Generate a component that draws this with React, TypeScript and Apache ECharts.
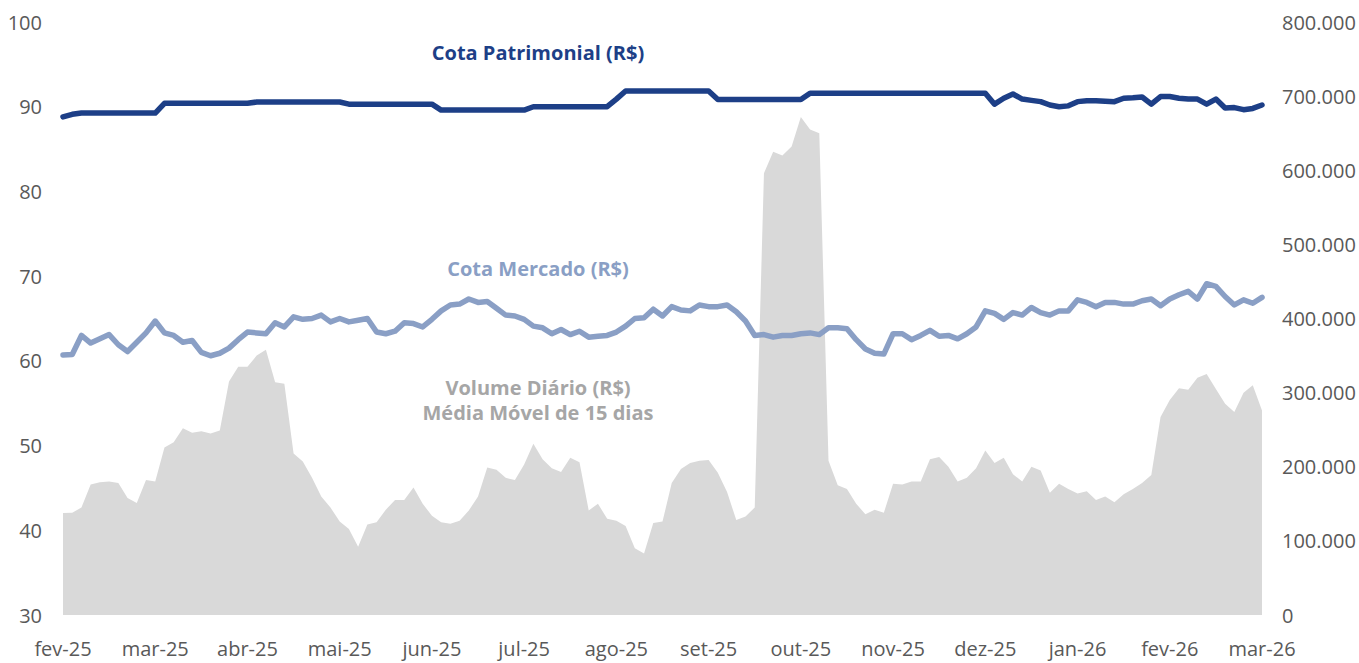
import React, { useEffect, useRef } from "react";
import * as echarts from "echarts";

const monthLabels = [
  "fev-25", "mar-25", "abr-25", "mai-25", "jun-25", "jul-25", "ago-25",
  "set-25", "out-25", "nov-25", "dez-25", "jan-26", "fev-26", "mar-26",
];
const pointsPerMonth = 10;

const cotaPatrimonial = [
  88.8, 89.1, 89.25, 89.25, 89.25, 89.25, 89.25, 89.25, 89.25, 89.25,
  89.25, 90.4, 90.4, 90.4, 90.4, 90.4, 90.4, 90.4, 90.4, 90.4,
  90.4, 90.55, 90.55, 90.55, 90.55, 90.55, 90.55, 90.55, 90.55, 90.55,
  90.55, 90.3, 90.3, 90.3, 90.3, 90.3, 90.3, 90.3, 90.3, 90.3,
  90.3, 89.6, 89.6, 89.6, 89.6, 89.6, 89.6, 89.6, 89.6, 89.6,
  89.6, 90.0, 90.0, 90.0, 90.0, 90.0, 90.0, 90.0, 90.0, 90.0,
  90.9, 91.85, 91.85, 91.85, 91.85, 91.85, 91.85, 91.85, 91.85, 91.85,
  91.85, 90.85, 90.85, 90.85, 90.85, 90.85, 90.85, 90.85, 90.85, 90.85,
  90.85, 91.6, 91.6, 91.6, 91.6, 91.6, 91.6, 91.6, 91.6, 91.6,
  91.6, 91.6, 91.6, 91.6, 91.6, 91.6, 91.6, 91.6, 91.6, 91.6,
  91.6, 90.3, 91.0, 91.5, 90.9, 90.75, 90.6, 90.2, 90.0, 90.1,
  90.6, 90.7, 90.7, 90.65, 90.6, 91.0, 91.05, 91.15, 90.3, 91.2,
  91.2, 91.0, 90.9, 90.9, 90.3, 90.9, 89.85, 89.9, 89.65, 89.8,
  90.2,
];

const cotaMercado = [
  60.7, 60.75, 63.0, 62.1, 62.6, 63.1, 61.9, 61.1, 62.2, 63.3,
  64.7, 63.3, 63.0, 62.2, 62.4, 61.0, 60.6, 60.9, 61.5, 62.5,
  63.4, 63.3, 63.2, 64.5, 64.0, 65.2, 64.9, 65.0, 65.4, 64.6,
  65.0, 64.6, 64.8, 65.0, 63.4, 63.2, 63.5, 64.5, 64.4, 64.0,
  64.9, 65.9, 66.6, 66.7, 67.3, 66.9, 67.0, 66.2, 65.4, 65.3,
  64.9, 64.1, 63.9, 63.2, 63.7, 63.1, 63.5, 62.8, 62.9, 63.0,
  63.4, 64.1, 65.0, 65.1, 66.1, 65.3, 66.4, 66.0, 65.9, 66.6,
  66.4, 66.4, 66.6, 65.8, 64.7, 63.0, 63.1, 62.8, 63.0, 63.0,
  63.2, 63.3, 63.1, 63.9, 63.9, 63.8, 62.5, 61.4, 60.9, 60.8,
  63.2, 63.2, 62.5, 63.0, 63.6, 62.9, 63.0, 62.6, 63.2, 64.0,
  65.9, 65.6, 64.9, 65.7, 65.4, 66.3, 65.7, 65.4, 65.9, 65.9,
  67.2, 66.9, 66.4, 66.9, 66.9, 66.7, 66.7, 67.1, 67.3, 66.5,
  67.3, 67.8, 68.2, 67.3, 69.1, 68.8, 67.6, 66.6, 67.2, 66.8,
  67.5,
];

const volumeMM15 = [
  137600, 138000, 145000, 176000, 179000, 180000, 178000, 158000, 151000, 182000,
  180000, 226000, 233000, 252000, 246000, 248000, 245000, 249000, 315000, 335000,
  335000, 350000, 358000, 314000, 312000, 218000, 207000, 185000, 160000, 145000,
  126000, 116000, 92000, 122000, 125000, 142000, 155000, 155000, 172000, 150000,
  134000, 125000, 123000, 127000, 141000, 160000, 199000, 196000, 185000, 182000,
  203000, 231000, 210000, 198000, 193000, 212000, 206000, 141000, 150000, 130000,
  127000, 120000, 90000, 83000, 124000, 126000, 178000, 197000, 205000, 208000,
  209000, 192000, 166000, 128000, 133000, 145000, 596000, 625000, 620000, 632000,
  672000, 655000, 650000, 208000, 175000, 170000, 150000, 136000, 142000, 138000,
  177000, 176000, 180000, 180000, 210000, 213000, 200000, 180000, 185000, 198000,
  222000, 205000, 212000, 190000, 180000, 200000, 195000, 165000, 177000, 170000,
  164000, 167000, 155000, 160000, 152000, 163000, 170000, 178000, 189000, 267000,
  290000, 306000, 304000, 320000, 325000, 305000, 285000, 274000, 300000, 310000,
  276000,
];

const toPairs = (arr: number[]) => arr.map((v, i) => [i, v]);

const fmtThousands = (v: number) => {
  if (v === 0) return "0";
  const s = Math.round(v).toString();
  return s.replace(/\B(?=(\d{3})+(?!\d))/g, ".");
};

export default function App() {
  const ref = useRef<HTMLDivElement>(null);
  useEffect(() => {
    if (!ref.current) return;
    const chart = echarts.init(ref.current, null, { renderer: "svg" });
    const font = "'Open Sans', 'Noto Sans', sans-serif";
    const axisLabelStyle = { color: "#595959", fontSize: 20, fontFamily: font };
    const label = (text: string, y: number, fill: string) => ({
      type: "text",
      x: 538,
      y,
      style: {
        text,
        fill,
        font: `bold 20px ${font}`,
        align: "center",
        verticalAlign: "middle",
      },
      z: 10,
    });
    chart.setOption({
      animation: false,
      backgroundColor: "#ffffff",
      grid: { left: 63, right: 97, top: 22, bottom: 48, containLabel: false },
      xAxis: {
        type: "value",
        min: 0,
        max: (monthLabels.length - 1) * pointsPerMonth,
        interval: pointsPerMonth,
        axisLine: { show: false },
        axisTick: { show: false },
        splitLine: { show: false },
        axisLabel: {
          ...axisLabelStyle,
          margin: 23,
          formatter: (v: number) => monthLabels[Math.round(v / pointsPerMonth)] ?? "",
        },
      },
      yAxis: [
        {
          type: "value",
          min: 30,
          max: 100,
          interval: 10,
          axisLine: { show: false },
          axisTick: { show: false },
          splitLine: { show: false },
          axisLabel: { ...axisLabelStyle, margin: 21 },
        },
        {
          type: "value",
          min: 0,
          max: 800000,
          interval: 100000,
          position: "right",
          axisLine: { show: false },
          axisTick: { show: false },
          splitLine: { show: false },
          axisLabel: { ...axisLabelStyle, margin: 20, formatter: fmtThousands },
        },
      ],
      series: [
        {
          name: "Volume Diário (R$) Média Móvel de 15 dias",
          type: "line",
          yAxisIndex: 1,
          data: toPairs(volumeMM15),
          showSymbol: false,
          lineStyle: { width: 0 },
          areaStyle: { color: "#D9D9D9", opacity: 1 },
          z: 1,
        },
        {
          name: "Cota Mercado (R$)",
          type: "line",
          yAxisIndex: 0,
          data: toPairs(cotaMercado),
          showSymbol: false,
          lineStyle: { width: 5.5, color: "#8A9FC5", join: "round", cap: "round" },
          z: 3,
        },
        {
          name: "Cota Patrimonial (R$)",
          type: "line",
          yAxisIndex: 0,
          data: toPairs(cotaPatrimonial),
          showSymbol: false,
          lineStyle: { width: 5.5, color: "#1D3F87", join: "round", cap: "round" },
          z: 4,
        },
      ],
      graphic: [
        label("Cota Patrimonial (R$)", 52, "#1D3F87"),
        label("Cota Mercado (R$)", 268, "#8A9FC5"),
        label("Volume Diário (R$)", 387, "#A6A6A6"),
        label("Média Móvel de 15 dias", 412, "#A6A6A6"),
      ],
    });
    return () => chart.dispose();
  }, []);
  return (
    <div
      ref={ref}
      style={{ position: "fixed", left: 0, top: 0, width: 1359, height: 663 }}
    />
  );
}
